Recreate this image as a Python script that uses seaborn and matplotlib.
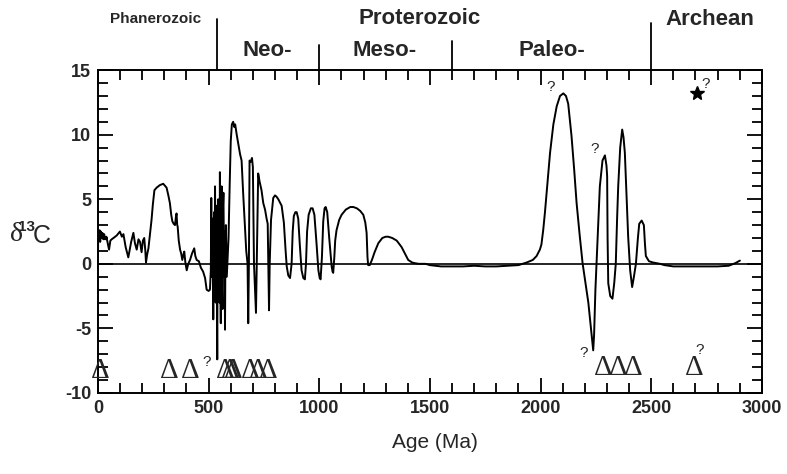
import numpy as np
import pandas as pd
import matplotlib
matplotlib.use('Agg')
import matplotlib.pyplot as plt
import matplotlib.transforms as mtransforms
from matplotlib.ticker import MultipleLocator
import seaborn as sns

# carbon isotope curve (age in Ma, d13C in permil)
age = [0, 1, 4, 7, 10, 13, 17, 20, 24, 28, 32, 38, 44, 50, 56, 62, 70, 85, 99, 108, 115, 125, 137,
       150, 160, 167, 175, 183, 190, 197, 203, 209, 214, 217, 222, 228, 235, 242, 248, 255, 265,
       280, 295, 305, 310, 318, 325, 331, 336, 342, 348, 352, 355, 358, 360, 365, 371, 376, 381,
       386, 390, 395, 401, 408, 416, 425, 435, 440, 446, 456, 465, 475, 484, 491, 500, 506, 510,
       512, 514, 516, 518, 521, 523, 525, 527, 529, 532, 535, 537, 539, 541, 543, 545, 547, 549,
       551, 553, 555, 557, 559, 561, 563, 565, 567, 570, 572, 574, 576, 578, 582, 586,
       590, 595, 600, 605, 611, 616, 620, 627, 634, 642, 649, 656, 664, 670, 676, 679, 682, 685,
       690, 696, 700, 705, 714, 718, 724, 730, 739, 747, 755, 762, 767, 770, 773, 776, 782, 792,
       800, 807, 815, 830, 840, 848, 853, 860, 868, 875, 880, 885, 892, 898, 905, 912, 920, 928,
       935, 940, 945, 952, 962, 970, 978, 988, 996, 1002, 1006, 1012, 1018, 1024, 1029, 1036,
       1045, 1056, 1060, 1063, 1068, 1072, 1078, 1090, 1101, 1120, 1140, 1154, 1170, 1185, 1199,
       1208, 1214, 1218, 1221, 1228, 1238, 1250, 1267, 1285, 1300, 1312, 1330, 1350, 1372, 1390,
       1402, 1420, 1432, 1450, 1480, 1500, 1550, 1600, 1650, 1700, 1750, 1800, 1850, 1900, 1937,
       1965, 1982, 1997, 2004, 2012, 2020, 2030, 2043, 2058, 2073, 2088, 2103, 2115, 2125, 2140,
       2152, 2163, 2177, 2190, 2203, 2216, 2228, 2238, 2242, 2248, 2253, 2260, 2268, 2280, 2291,
       2298, 2301, 2303, 2306, 2315, 2325, 2333, 2340, 2346, 2351, 2360, 2369, 2375, 2381, 2388,
       2396, 2405, 2414, 2422, 2431, 2440, 2446, 2457, 2467, 2472, 2476, 2490, 2509, 2540, 2560,
       2600, 2700, 2800, 2850, 2880, 2901]
d13c = [0.5, 2.4, 1.8, 2.6, 1.7, 2.5, 2.0, 2.4, 1.9, 2.3, 1.9, 2.1, 1.6, 1.1, 1.8, 1.9, 2.0, 2.2,
        2.5, 2.1, 2.3, 1.3, 0.5, 1.7, 2.4, 1.6, 1.1, 1.9, 1.7, 0.9, 1.8, 2.0, 1.0, 0.1, 0.7, 1.2,
        2.3, 3.4, 4.6, 5.7, 5.9, 6.1, 6.2, 6.0, 5.9, 5.3, 4.7, 3.8, 3.3, 3.1, 3.0, 3.6, 3.9, 3.0,
        2.9, 1.8, 1.1, 0.8, 0.3, 0.7, 0.95, 0.1, -0.5, 0.0, 0.3, 0.8, 1.2, 0.6, 0.3, 0.2, -0.3,
        -0.6, -1.1, -2.0, -2.1, -2.0, -0.5,
        5.1, -1.0, 2.0, 3.5, -4.3, 1.0, 4.0, -2.5, 6.0, -3.0, 4.5, -1.0, -7.4, 3.5, 5.0, -2.0,
        4.0, -3.0, 7.1, -1.5, -4.6, 3.0, 6.0, -2.0, -3.5, 4.5, 5.5, -1.0, 2.5, -5.1, 1.0, 3.0,
        -1.0, 0.5,
        2.0, 6.0, 9.5, 10.8, 11.0, 10.6, 10.8, 10.0, 9.3, 8.5, 8.0, 5.5, 2.9, 1.0, 0.0, -4.6, 0.0,
        8.0, 7.9, 8.2, 7.5, 0.0, -3.8, 0.5, 7.0, 6.4, 5.7, 4.7, 4.2, 3.5, 3.1, 0.0, -3.6, 0.0, 3.4,
        5.1, 5.3, 5.2, 5.0, 4.5, 3.2, 1.0, -0.2, -0.9, -1.1, 0.0, 2.5, 3.7, 4.0, 4.0, 3.5, 1.5,
        -0.5, -1.1, -1.2, 0.0, 2.5, 3.8, 4.3, 4.3, 3.8, 1.5, -0.5, -1.1, -1.2, 0.5, 3.3, 4.3, 4.4,
        4.0, 2.0, -0.2, -0.6, -0.7, 0.5, 1.8, 2.6, 3.4, 3.8, 4.2, 4.4, 4.4, 4.3, 4.1, 3.8, 3.2,
        2.4, 0.5, -0.1, -0.1, 0.3, 0.9, 1.6, 2.0, 2.1, 2.1, 2.0, 1.8, 1.3, 0.7, 0.3, 0.1, 0.05,
        0.0, 0.0, -0.1, -0.2, -0.2, -0.2, -0.15, -0.2, -0.2, -0.15, -0.1, 0.1, 0.3, 0.6, 1.1, 1.5,
        2.6, 4.0, 6.0, 8.6, 10.8, 12.2, 13.0, 13.2, 13.0, 12.4, 9.9, 7.3, 4.7, 2.2, 0.05, -1.5,
        -3.0, -5.0, -6.7, -5.5, -2.0, 0.0, 3.0, 6.0, 8.0, 8.4, 7.6, 6.8, 2.0, -1.5, -2.5, -2.7,
        -1.5, 0.0, 3.5, 6.0, 9.0, 10.4, 9.8, 8.6, 5.5, 2.1, -0.5, -1.8, -1.0, 0.0, 2.0, 3.1, 3.35,
        3.0, 1.5, 0.6, 0.2, 0.1, 0.0, -0.1, -0.2, -0.2, -0.2, -0.15, 0.05, 0.25]

# glaciation triangles
tri_age = [9, 322, 415, 575, 597, 610, 687, 723, 768, 2282, 2350, 2420, 2693]
tri_d13c = [-8.85, -8.85, -8.85, -8.85, -8.85, -8.85, -8.85, -8.85, -8.85, -8.6, -8.6, -8.6, -8.6]

# question marks
q_age = [492, 2045, 2246, 2193, 2747, 2720]
q_d13c = [-7.6, 13.7, 8.9, -6.9, 13.9, -6.7]

star_age = [2705]
star_d13c = [13.2]

# eon / era labels on top
era_bounds = [540, 1000, 1600, 2500]
era_top = [1.158, 1.077, 1.090, 1.146]
era_names = ['Phanerozoic', 'Proterozoic', 'Neo-', 'Meso-', 'Paleo-', 'Archean']
era_x = [258, 1455, 764, 1297, 2052, 2766]
era_y = [1.158, 1.161, 1.062, 1.062, 1.062, 1.158]
era_size = [11, 16, 16, 16, 16, 16]

sns.set_style('ticks')
plt.rcParams['font.family'] = ['Liberation Sans', 'DejaVu Sans']
plt.rcParams['axes.unicode_minus'] = False

fig = plt.figure(figsize=(7.87, 4.74), dpi=100)
ax = fig.add_axes([0.1245, 0.171, 0.8435, 0.681])

df = pd.DataFrame({'age': age, 'd13c': d13c})
sns.lineplot(data=df, x='age', y='d13c', sort=False, estimator=None,
             color='black', lw=1.4, ax=ax)
ax.axhline(0, color='black', lw=1.2)

for a, d in zip(tri_age, tri_d13c):
    ax.text(a, d, '\u0394', family=['Liberation Serif', 'DejaVu Serif'], fontsize=21,
            ha='center', va='baseline')
for a, d in zip(q_age, q_d13c):
    ax.text(a, d, '?', fontsize=11, ha='center', va='center')
ax.plot(star_age, star_d13c, marker='*', ms=10, color='black', ls='none')

trans = mtransforms.blended_transform_factory(ax.transData, ax.transAxes)
for b, t in zip(era_bounds, era_top):
    ax.plot([b, b], [1.0, t], color='black', lw=1.3, transform=trans, clip_on=False)
for name, x, y, s in zip(era_names, era_x, era_y, era_size):
    ax.text(x, y, name, transform=trans, fontsize=s, fontweight='bold',
            ha='center', va='center')

ax.set_xlim(0, 3000)
ax.set_ylim(-10, 15)
ax.xaxis.set_major_locator(MultipleLocator(500))
ax.xaxis.set_minor_locator(MultipleLocator(100))
ax.yaxis.set_major_locator(MultipleLocator(5))
ax.yaxis.set_minor_locator(MultipleLocator(1))
ax.tick_params(which='both', direction='in', top=True, right=True, width=1.3, color='black')
ax.tick_params(which='major', length=11, labelsize=13, pad=5)
ax.tick_params(which='minor', length=7)
for lab in ax.get_xticklabels() + ax.get_yticklabels():
    lab.set_fontweight('bold')
for sp in ax.spines.values():
    sp.set_linewidth(1.4)
    sp.set_color('black')

ax.set_xlabel('')
ax.set_ylabel('')
# delta 13 C label built from pieces
ax.text(-0.1227, 0.49, '\u03b4', family=['Liberation Serif', 'DejaVu Serif'], fontsize=20,
        transform=ax.transAxes, ha='center', va='center')
ax.text(-0.108, 0.515, '13', fontsize=11, fontweight='bold',
        transform=ax.transAxes, ha='center', va='center')
ax.text(-0.084, 0.486, 'C', fontsize=18, transform=ax.transAxes, ha='center', va='center')
ax.text(0.507, -0.152, 'Age (Ma)', transform=ax.transAxes, fontsize=15,
        ha='center', va='center')

fig.savefig('out.png', dpi=100, facecolor='white')
